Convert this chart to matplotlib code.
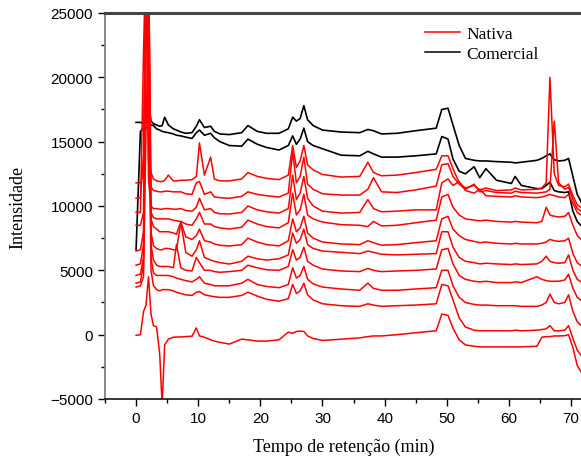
import numpy as np
import matplotlib.pyplot as plt

# retention time grid (min)
t = [0, 0.7, 1.2, 1.6, 2.0, 2.4, 2.8, 3.3, 3.8, 4.2,
     4.6, 5.2, 6, 6.5, 7.2, 8, 9, 9.7, 10.2, 11,
     12, 12.6, 13.5, 15, 17, 18, 19.5, 21, 23, 24.5,
     25.2, 25.8, 26.4, 27, 27.6, 28.5, 30, 33, 36, 37.3,
     38.2, 39.5, 42, 45, 48.3, 49.2, 50.2, 51, 52, 53,
     54.4, 55.3, 56.3, 58, 60.4, 61, 62, 64.5, 65.3, 66,
     66.6, 67.3, 68, 69, 69.6, 70.3, 71, 72.5]

# Comercial
com1 = [16500, 16500, 16400, 16450, 18300, 16600, 16400, 16300, 16200, 16250,
        16900, 16300, 16000, 15900, 15750, 15650, 15700, 16200, 16700, 16100,
        16200, 15800, 15600, 15550, 15700, 16250, 15800, 15650, 15650, 16000,
        16900, 16600, 16800, 17800, 16700, 16250, 15900, 15750, 15700, 15950,
        15850, 15600, 15650, 15850, 16050, 17500, 17600, 16300, 14700, 13700,
        13550, 13500, 13500, 13450, 13400, 13350, 13400, 13550, 13700, 13900,
        14050, 13600, 13500, 13550, 13700, 12300, 10900, 9500]
com2 = [6600, 15800, 16100, 16050, 16200, 16300, 16250, 16000, 15900, 15800,
        15750, 15700, 15600, 15500, 15450, 15350, 15250, 15700, 15900, 15500,
        15650, 15300, 15000, 14700, 14650, 15200, 14800, 14550, 14350, 14700,
        15450, 14800, 15200, 16050, 15000, 14700, 14450, 13950, 13900, 14250,
        14050, 13800, 13800, 13900, 14050, 15400, 15200, 13650, 12700, 12500,
        13050, 12200, 12900, 12000, 11750, 12300, 11600, 11350, 11350, 11600,
        11850, 11200, 11100, 11050, 11100, 9600, 8800, 8000]

# Nativa
nat1 = [11800, 11800, 12500, 30000, 13500, 12600, 12100, 11950, 11900, 11900,
        12000, 12400, 11950, 11950, 12000, 12000, 12050, 12300, 14900, 12400,
        13800, 12100, 11950, 11950, 12100, 12600, 12300, 12150, 12050, 12400,
        14700, 13000, 13500, 14700, 13200, 12800, 12450, 12250, 12300, 13400,
        12600, 12350, 12400, 12600, 12850, 13900, 13900, 12900, 11800, 11400,
        11600, 11250, 11400, 11200, 11250, 11400, 11250, 11300, 11400, 11800,
        20000, 12500, 11600, 11500, 11700, 10800, 10100, 9600]
nat2 = [10600, 10650, 14000, 28000, 30000, 11500, 11200, 11150, 11100, 11100,
        11150, 11150, 11100, 11100, 11100, 10950, 10900, 11800, 11900, 10900,
        11100, 10700, 10650, 10600, 10750, 11100, 10900, 10800, 10700, 11000,
        14200, 11800, 12300, 13800, 11700, 11300, 10950, 10850, 10850, 11300,
        12200, 11100, 11050, 11250, 11550, 13200, 13300, 12300, 11700, 11300,
        11700, 11100, 11200, 11050, 11000, 11150, 11050, 11000, 11050, 11100,
        11300, 16600, 11800, 11300, 11450, 10500, 9800, 9300]
nat3 = [9500, 9500, 22000, 30000, 12000, 10000, 9800, 9800, 9750, 9750,
        9800, 9800, 9750, 9750, 9800, 9650, 9600, 9900, 10600, 9700,
        9800, 9500, 9400, 9380, 9500, 10000, 9700, 9550, 9450, 9800,
        12400, 10500, 11000, 12300, 10600, 10000, 9600, 9450, 9500, 10500,
        9800, 9550, 9600, 9700, 9700, 11800, 12100, 11600, 11900, 11200,
        11000, 11300, 10800, 10750, 10700, 10800, 10700, 10650, 10700, 10800,
        10900, 10800, 10700, 10650, 10900, 10200, 9500, 9000]
nat4 = [8500, 8500, 9500, 30000, 26000, 9500, 9100, 9000, 9000, 9000,
        9000, 9000, 8900, 8850, 8800, 8600, 8500, 9000, 9500, 8600,
        8600, 8400, 8300, 8210, 8350, 8900, 8600, 8400, 8300, 8700,
        11000, 9300, 9700, 10900, 9300, 9000, 8750, 8550, 8500, 8400,
        8800, 8450, 8500, 8700, 8900, 10700, 10900, 9900, 9300, 9000,
        8900, 8850, 8900, 8800, 8750, 8800, 8750, 8700, 8800, 9900,
        9300, 9200, 9150, 9200, 9500, 8500, 7700, 7000]
nat5 = [6500, 6600, 8000, 26000, 30000, 9000, 8400, 8200, 8000, 8000,
        8000, 8000, 7900, 7800, 8760, 7600, 7400, 7700, 8200, 7300,
        7200, 7050, 6950, 6890, 7000, 7500, 7200, 7000, 6900, 7300,
        9000, 8000, 8300, 9200, 7900, 7500, 7200, 7050, 7000, 7300,
        7150, 6950, 7000, 7150, 7300, 9000, 9200, 8200, 7700, 7400,
        7250, 7150, 7200, 7100, 7050, 7100, 7050, 7050, 7100, 7200,
        7400, 7300, 7250, 7300, 7500, 6300, 5600, 5000]
nat6 = [5400, 5500, 7000, 30000, 20000, 8000, 6900, 6700, 6600, 6600,
        6700, 6700, 6600, 6600, 8700, 6400, 6100, 6600, 7300, 6000,
        5800, 5700, 5600, 5490, 5700, 6100, 5900, 5800, 5900, 6200,
        7900, 7100, 7400, 8200, 7000, 6700, 6500, 6400, 6300, 6500,
        6400, 6250, 6200, 6250, 6300, 8000, 8000, 6800, 6000, 5700,
        5600, 5500, 5550, 5500, 5450, 5500, 5450, 5500, 5700, 6100,
        5700, 5600, 5550, 5600, 6200, 5000, 4300, 3800]
nat7 = [4600, 4700, 6000, 30000, 24000, 7000, 5800, 5400, 5300, 5300,
        5300, 5300, 5200, 7000, 5200, 5000, 4950, 6000, 5600, 5000,
        5000, 4900, 4850, 4900, 5000, 5400, 5200, 5050, 5000, 5300,
        6600, 5800, 6000, 6800, 5700, 5400, 5100, 4950, 4900, 5150,
        5000, 4900, 4950, 5000, 5100, 6600, 6700, 5500, 4600, 4300,
        4150, 4100, 4150, 4050, 4050, 4100, 4050, 4500, 4300, 4200,
        4150, 4150, 4150, 4250, 4700, 3600, 2900, 2300]
nat8 = [4000, 4100, 5500, 24000, 30000, 6000, 4800, 4600, 4600, 4600,
        4600, 4600, 4500, 4400, 4300, 4200, 4100, 4300, 4500, 4000,
        3900, 3800, 3800, 3800, 4000, 4300, 3900, 3750, 3650, 3900,
        5200, 4400, 4600, 5300, 4300, 3950, 3700, 3550, 3450, 4000,
        3600, 3450, 3450, 3550, 3650, 5000, 5000, 3800, 2900, 2500,
        2350, 2300, 2300, 2250, 2250, 2250, 2200, 2200, 2300, 2500,
        3150, 2500, 2400, 2500, 3100, 1800, 1000, 300]
nat9 = [3700, 3800, 4500, 16000, 24000, 5000, 3800, 3500, 3400, 3500,
        3500, 3500, 3400, 3300, 3200, 3100, 3050, 3300, 3350, 3100,
        3000, 2950, 2900, 2900, 3050, 3300, 3000, 2750, 2600, 2800,
        3900, 3200, 3400, 4000, 3100, 2700, 2400, 2250, 2200, 2400,
        2300, 2200, 2250, 2300, 2400, 3900, 3800, 2700, 1300, 600,
        350, 300, 300, 300, 300, 350, 300, 350, 400, 450,
        700, 300, 300, 350, 700, -300, -1200, -2200]
nat10 = [-50, 0, 1800, 2300, 4500, 1600, 700, 600, -1500, -5500,
         -800, -350, -200, -180, -180, -150, -120, 520, -100, -200,
         -400, -500, -600, -730, -350, -400, -500, -500, -400, 200,
         100, 250, 280, 250, -100, -300, -450, -350, -250, -150,
         -100, -100, 0, 150, 300, 1600, 1500, 500, -400, -800,
         -900, -950, -950, -950, -950, -950, -950, -900, -200, -150,
         -150, -100, -100, -80, 0, -1000, -2400, -3600]

comercial = [com1, com2]
nativa = [nat1, nat2, nat3, nat4, nat5, nat6, nat7, nat8, nat9, nat10]

fig = plt.figure(figsize=(5.81, 4.6), dpi=100)
ax = fig.add_axes([105/581, 60/460, 0.85, 386/460])

for c in comercial:
    ax.plot(t, c, color='black', lw=1.2)
for n in nativa:
    ax.plot(t, n, color='red', lw=1.1)

ax.set_xlim(-5, -5 + 0.85*581/6.214)
ax.set_ylim(-5000, 25000)
ax.set_xticks(np.arange(0, 80, 10))
ax.set_xticks(np.arange(-5, 75, 5), minor=True)
ax.set_yticks(np.arange(-5000, 25001, 5000))
ax.set_yticks(np.arange(-5000, 25001, 2500), minor=True)
ax.tick_params(which='major', direction='out', length=5, width=1, labelsize=11)
ax.tick_params(which='minor', direction='out', length=3, width=1)
for lab in ax.get_xticklabels() + ax.get_yticklabels():
    lab.set_family('Liberation Sans')

ax.spines['right'].set_visible(False)
ax.spines['top'].set_color('#444444')
ax.spines['top'].set_linewidth(2.2)
ax.spines['left'].set_color('#808080')
ax.spines['left'].set_linewidth(1.3)
ax.spines['bottom'].set_linewidth(1.1)

fig.text(18/581, 1 - 207/460, 'Intensidade', rotation=90, ha='center', va='center',
         family='Liberation Serif', fontsize=13)
fig.text(344/581, 1 - 447/460, 'Tempo de retenção (min)', ha='center', va='center',
         family='Liberation Serif', fontsize=13)

h1, = ax.plot([], [], color='red', lw=1.1)
h2, = ax.plot([], [], color='black', lw=1.1)
ax.legend([h1, h2], ['Nativa', 'Comercial'], loc='upper left',
          bbox_to_anchor=(425/581, 1 - 27/460), bbox_transform=fig.transFigure,
          frameon=False, borderpad=0, borderaxespad=0, handlelength=2.0,
          handletextpad=0.4, labelspacing=0.2,
          prop={'family': 'Liberation Serif', 'size': 12.5})

fig.savefig('out.png', dpi=100)
